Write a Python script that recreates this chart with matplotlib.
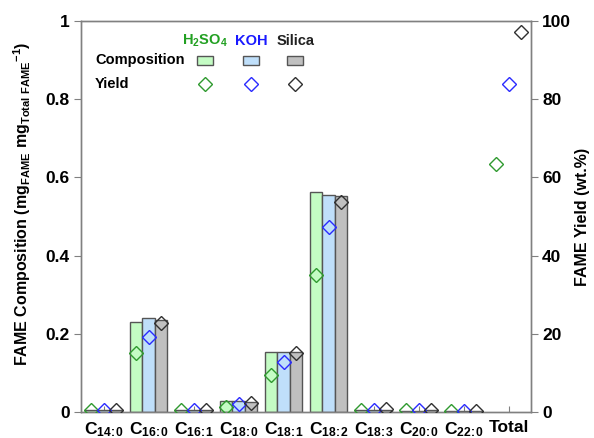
import matplotlib
matplotlib.use("Agg")
import matplotlib.pyplot as plt
import numpy as np
from matplotlib.patches import Rectangle
from matplotlib.lines import Line2D

plt.rcParams['font.family'] = ['Liberation Sans', 'DejaVu Sans']
plt.rcParams['font.weight'] = 'bold'
plt.rcParams['mathtext.fontset'] = 'custom'
plt.rcParams['mathtext.rm'] = 'Liberation Sans:bold'
plt.rcParams['mathtext.bf'] = 'Liberation Sans:bold'
plt.rcParams['mathtext.it'] = 'Liberation Sans:bold'
plt.rcParams['mathtext.default'] = 'bf'

categories = [r'C$_{14\!:\!0}$', r'C$_{16\!:\!0}$', r'C$_{16\!:\!1}$', r'C$_{18\!:\!0}$',
              r'C$_{18\!:\!1}$', r'C$_{18\!:\!2}$', r'C$_{18\!:\!3}$', r'C$_{20\!:\!0}$',
              r'C$_{22\!:\!0}$', 'Total']
series = ['H2SO4', 'KOH', 'Silica']
series_labels = [r'H$_2$SO$_4$', 'KOH', 'Silica']

comp_h2so4 = [0.005, 0.230, 0.004, 0.027, 0.153, 0.563, 0.004, 0.003, 0.002, np.nan]
comp_koh = [0.005, 0.240, 0.004, 0.027, 0.153, 0.555, 0.004, 0.003, 0.002, np.nan]
comp_silica = [0.006, 0.235, 0.005, 0.025, 0.153, 0.552, 0.006, 0.004, 0.003, np.nan]

yield_h2so4 = [0.5, 15.2, 0.4, 1.4, 9.5, 35.1, 0.5, 0.4, 0.3, 63.3]
yield_koh = [0.5, 19.3, 0.4, 2.0, 12.7, 47.4, 0.5, 0.4, 0.3, 83.9]
yield_silica = [0.6, 22.8, 0.5, 2.2, 15.2, 53.8, 0.7, 0.4, 0.3, 97.3]

bar_colors = ['#c4fcc4', '#bfdffa', '#c0c0c0']
marker_colors = ['#2f9a2f', '#2a2aff', '#303030']
text_colors = ['#22a022', '#1a1aff', '#202020']

comps = [comp_h2so4, comp_koh, comp_silica]
yields = [yield_h2so4, yield_koh, yield_silica]

fig = plt.figure(figsize=(5.94, 4.38), dpi=100)
ax = fig.add_axes([81/594, 1-412/438, 450/594, 391/438])
ax2 = ax.twinx()

x = np.arange(len(categories))
w = 0.272
offs = [-w, 0, w]
for i in range(3):
    ax.bar(x + offs[i], comps[i], width=w, color=bar_colors[i], edgecolor='#555555',
           linewidth=1.0, zorder=2)
    ax2.plot(x + offs[i], yields[i], linestyle='none', marker='D', ms=7.5,
             mfc='none', mec=marker_colors[i], mew=1.0, zorder=3)

ax.set_xlim(-0.5, len(categories) - 0.5)
ax.set_ylim(0, 1)
ax2.set_ylim(0, 100)
ax.set_yticks([0, 0.2, 0.4, 0.6, 0.8, 1.0])
ax.set_yticklabels(['0', '0.2', '0.4', '0.6', '0.8', '1'])
ax2.set_yticks([0, 20, 40, 60, 80, 100])
ax.set_xticks(x)
ax.set_xticklabels(categories, fontsize=12.5, fontweight='bold')
ax.tick_params(axis='x', direction='in', length=4, color='#808080', pad=6)
ax.tick_params(axis='y', direction='out', length=5, color='#808080', labelsize=12.5, pad=3)
ax2.tick_params(axis='y', direction='out', length=5, color='#808080', labelsize=12.5, pad=3)
for a in (ax, ax2):
    for s in a.spines.values():
        s.set_color('#808080')
        s.set_linewidth(1.0)
for lbl in ax.get_yticklabels() + ax2.get_yticklabels():
    lbl.set_fontweight('bold')

ax.set_ylabel(r'FAME Composition (mg$_{FAME}$ mg$_{Total\ FAME}$$^{-1}$)',
              fontsize=11.5, fontweight='bold')
ax.yaxis.set_label_coords((33 - 81) / 450, 0.532)
ax2.set_ylabel('FAME Yield (wt.%)', fontsize=11.5, fontweight='bold', labelpad=3)

# in-plot legend table
col_x = [0.276, 0.378, 0.476]
for i in range(3):
    ax.text(col_x[i], 0.949, series_labels[i], transform=ax.transAxes, ha='center',
            va='center', fontsize=10.5, fontweight='bold', color=text_colors[i])
    rw, rh = 16/450, 9/391
    ax.add_patch(Rectangle((col_x[i] - rw/2, 0.900 - rh/2), rw, rh, transform=ax.transAxes,
                           facecolor=bar_colors[i], edgecolor='#555555', linewidth=1.0,
                           clip_on=False, zorder=4))
    ax.add_line(Line2D([col_x[i]], [0.839], transform=ax.transAxes, marker='D', ms=7.5,
                       mfc='none', mec=marker_colors[i], mew=1.0, linestyle='none'))
ax.text(0.031, 0.900, 'Composition', transform=ax.transAxes, ha='left', va='center',
        fontsize=10.5, fontweight='bold')
ax.text(0.031, 0.839, 'Yield', transform=ax.transAxes, ha='left', va='center',
        fontsize=10.5, fontweight='bold')

fig.savefig('out.png', dpi=100)
